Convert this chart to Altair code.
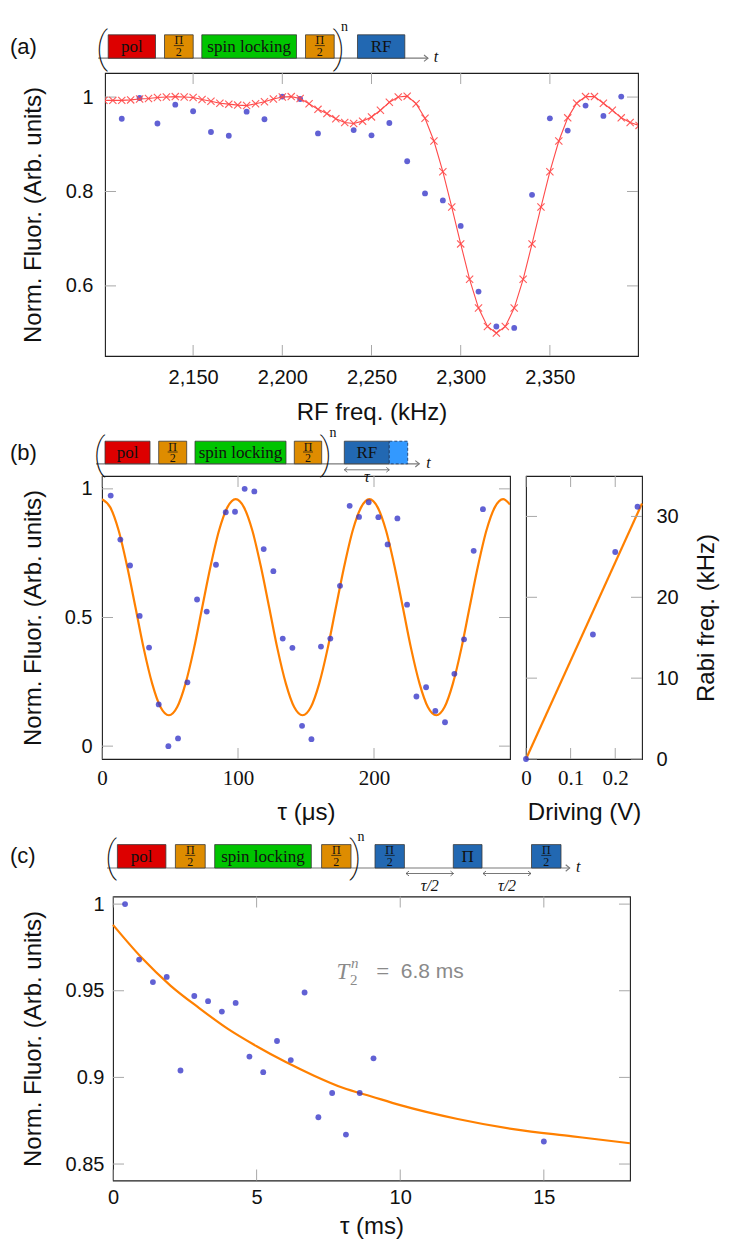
import altair as alt
import pandas as pd

# ---------------- (a) RF spectrum ----------------
a_fit_freq = [2100, 2105, 2110, 2115, 2120, 2125, 2130, 2135, 2140, 2145,
              2150, 2155, 2160, 2165, 2170, 2175, 2180, 2185, 2190, 2195,
              2200, 2205, 2210, 2215, 2220, 2225, 2230, 2235, 2240, 2245,
              2250, 2255, 2260, 2265, 2270, 2275, 2280, 2285, 2290, 2295,
              2300, 2305, 2310, 2315, 2320, 2325, 2330, 2335, 2340, 2345,
              2350, 2355, 2360, 2365, 2370, 2375, 2380, 2385, 2390, 2395, 2400]
a_fit_val = [0.993, 0.993, 0.993, 0.994, 0.996, 0.997, 0.999, 1.000, 1.001, 1.000,
             0.999, 0.995, 0.991, 0.987, 0.985, 0.983, 0.982, 0.986, 0.990, 0.996,
             1.000, 1.001, 0.997, 0.986, 0.974, 0.965, 0.954, 0.946, 0.944, 0.949,
             0.958, 0.972, 0.989, 1.000, 1.002, 0.986, 0.955, 0.907, 0.842, 0.767,
             0.689, 0.614, 0.553, 0.514, 0.500, 0.514, 0.553, 0.614, 0.689, 0.767,
             0.842, 0.907, 0.956, 0.987, 1.001, 1.001, 0.987, 0.972, 0.956, 0.946, 0.940]
a_meas_freq = [2110, 2120, 2130, 2140, 2150, 2160, 2170, 2180, 2190, 2200, 2210, 2220,
               2240, 2250, 2260, 2270, 2280, 2290, 2300, 2310, 2320, 2330, 2340, 2350,
               2360, 2370, 2380, 2390]
a_meas_val = [0.954, 0.998, 0.944, 0.984, 0.970, 0.926, 0.918, 0.969, 0.953, 1.001, 0.996, 0.923,
              0.930, 0.919, 0.945, 0.864, 0.796, 0.781, 0.727, 0.588, 0.514, 0.511, 0.793, 0.955,
              0.929, 0.982, 0.960, 1.001]
a_xticks = [2150, 2200, 2250, 2300, 2350]
a_yticks = [0.6, 0.8, 1.0]

# ---------------- (b) Rabi oscillation ----------------
b_tau = [6.4, 13.5, 20.6, 27.7, 34.6, 41.7, 48.8, 55.9, 62.8, 69.9,
         77.0, 83.8, 91.0, 97.8, 104.9, 112.0, 118.9, 126.0, 132.9, 140.0,
         147.1, 154.0, 161.0, 167.9, 175.0, 182.1, 189.0, 196.1, 203.2, 210.0,
         217.2, 224.3, 231.2, 238.3, 245.1, 252.2, 259.1, 266.2, 273.3, 280.1]
b_val = [0.974, 0.803, 0.702, 0.506, 0.383, 0.162, 0.000, 0.030, 0.248, 0.570,
         0.523, 0.705, 0.909, 0.911, 1.000, 0.990, 0.766, 0.680, 0.418, 0.382,
         0.079, 0.027, 0.387, 0.418, 0.623, 0.934, 0.891, 0.948, 0.890, 0.784,
         0.885, 0.550, 0.193, 0.229, 0.137, 0.093, 0.281, 0.415, 0.759, 0.921]
b_fit_tau = [0, 6.1, 12.3, 18.4, 24.6, 30.7, 36.9, 43.0, 49.2, 55.3, 61.4, 67.6,
             73.7, 79.9, 86.0, 92.2, 98.3, 104.4, 110.6, 116.7, 122.9, 129.0, 135.2,
             141.3, 147.5, 153.6, 159.7, 165.9, 172.0, 178.2, 184.3, 190.5, 196.6,
             202.7, 208.9, 215.0, 221.2, 227.3, 233.5, 239.6, 245.8, 251.9, 258.0,
             264.2, 270.3, 276.5, 282.6, 288.8, 294.9, 300.0]
b_fit_val = [0.960, 0.928, 0.837, 0.701, 0.540, 0.379, 0.243, 0.152, 0.120, 0.152, 0.243, 0.379,
             0.540, 0.701, 0.837, 0.928, 0.960, 0.928, 0.837, 0.701, 0.540, 0.379, 0.243,
             0.152, 0.120, 0.152, 0.243, 0.379, 0.540, 0.701, 0.837, 0.928, 0.960,
             0.928, 0.837, 0.701, 0.540, 0.379, 0.243, 0.152, 0.120, 0.152, 0.243,
             0.379, 0.540, 0.701, 0.837, 0.928, 0.960, 0.939]
b_xticks = [0, 100, 200]
b_yticks = [0, 0.5, 1.0]

b_drive = [0.0, 0.15, 0.20, 0.25]
b_rabi = [0.0, 15.4, 25.6, 31.2]
b_fit_drive = [0.0, 0.26]
b_fit_rabi = [0.0, 31.6]
b2_xticks = [0, 0.1, 0.2]
b2_yticks = [0, 10, 20, 30]

# ---------------- (c) coherence decay ----------------
c_tau = [0.42, 0.91, 1.39, 1.87, 2.35, 2.83, 3.31, 3.79, 4.27, 4.75,
         5.23, 5.71, 6.19, 6.67, 7.15, 7.63, 8.11, 8.59, 9.07, 15.0]
c_val = [1.000, 0.968, 0.955, 0.958, 0.904, 0.947, 0.944, 0.938, 0.943, 0.912,
         0.903, 0.921, 0.910, 0.949, 0.877, 0.891, 0.867, 0.891, 0.911, 0.863]
c_fit_tau = [0, 1, 2, 3, 4, 5, 6, 7, 8, 9, 10, 12, 14, 16, 18]
c_fit_val = [0.988, 0.969, 0.953, 0.940, 0.928, 0.918, 0.909, 0.901, 0.894, 0.889,
             0.884, 0.876, 0.870, 0.866, 0.862]
c_xticks = [0, 5, 10, 15]
c_yticks = [0.85, 0.9, 0.95, 1.0]

# ---------------- pulse sequence labels ----------------
seq_labels = ["pol", "Π/2", "spin locking", "Π/2"]
panel_tags = ["(a)", "(b)", "(c)"]

# ---------------- styles ----------------
SANS = "Liberation Sans"
SERIF = "Liberation Serif"
THIN = "Roboto, Lato, DejaVu Sans"
BLUE_PT = "#3535c8"
RED = "#ff4a4a"
ORANGE = "#ff8000"
TICK_GRAY = "#a8a8a8"
TICK_LEN = 11
CROSS = "M-1,-1L1,1M-1,1L1,-1"
ARROW_R = "M-1,-0.8L0,0L-1,0.8"
ARROW_L = "M1,-0.8L0,0L1,0.8"
COL = {"pol": "#dd0000", "half": "#de8c00", "spin": "#00c400",
       "rf": "#2268b2", "rf2": "#3399ff"}
TITLE_SIZE = 24
LABEL_SIZE = 20
SERIF_LABEL = 21


def frame_ticks(xt, yt, xs, ys, W, H):
    dfx = pd.DataFrame({"v": xt})
    dfy = pd.DataFrame({"v": yt})
    rx = alt.Chart(dfx).mark_rule(color=TICK_GRAY, strokeWidth=1)
    ry = alt.Chart(dfy).mark_rule(color=TICK_GRAY, strokeWidth=1)
    X = alt.X("v:Q", scale=xs)
    Y = alt.Y("v:Q", scale=ys)
    return [
        rx.encode(x=X, y=alt.value(H), y2=alt.value(H - TICK_LEN)),
        rx.encode(x=X, y=alt.value(0), y2=alt.value(TICK_LEN)),
        ry.encode(y=Y, x=alt.value(0), x2=alt.value(TICK_LEN)),
        ry.encode(y=Y, x=alt.value(W), x2=alt.value(W - TICK_LEN)),
    ]


# diagram scales: offsets (px) relative to the plot origin
DXS = alt.Scale(domain=[-300, 700], range=[-300, 700], nice=False, zero=False)
DYS = alt.Scale(domain=[-100, 50], range=[-100, 50], nice=False, zero=False)


def dx(f):
    return alt.X(f"{f}:Q", scale=DXS, axis=None)


def dy(f):
    return alt.Y(f"{f}:Q", scale=DYS, axis=None)


def text_layer(rows, **kw):
    df = pd.DataFrame(rows, columns=["x", "y", "t"])
    base = dict(baseline="middle", align="center", color="#111")
    base.update(kw)
    return alt.Chart(df).mark_text(**base).encode(x=dx("x"), y=dy("y"), text="t:N")


def pulse_diagram(blocks, top, bottom, line_x0, tip_x, t_x,
                  lparen_x, rparen_x, n_x, dashed=None, arrows=None):
    layers = []
    layers.append(alt.Chart(pd.DataFrame({"x0": [line_x0], "x1": [tip_x], "y": [bottom]}))
                  .mark_rule(color="#7a7a7a", strokeWidth=1.2)
                  .encode(x=dx("x0"), x2=alt.X2("x1:Q"), y=dy("y")))
    layers.append(alt.Chart(pd.DataFrame({"x": [tip_x], "y": [bottom]}))
                  .mark_point(shape=ARROW_R, size=64, filled=False, color="#7a7a7a",
                              strokeWidth=1.1, opacity=1)
                  .encode(x=dx("x"), y=dy("y")))
    bdf = pd.DataFrame([{"x0": b[0], "x1": b[1], "y0": top, "y1": bottom, "fill": COL[b[2]]}
                        for b in blocks])
    layers.append(alt.Chart(bdf).mark_rect(stroke="#3a3a3a", strokeWidth=0.8)
                  .encode(x=dx("x0"), x2=alt.X2("x1:Q"), y=dy("y0"), y2=alt.Y2("y1:Q"),
                          fill=alt.Fill("fill:N", scale=None)))
    if dashed:
        ddf = pd.DataFrame([{"x0": dashed[0], "x1": dashed[1], "y0": top, "y1": bottom,
                             "fill": COL["rf2"]}])
        layers.append(alt.Chart(ddf).mark_rect(stroke="#1d3f70", strokeWidth=0.9,
                                               strokeDash=[3, 2])
                      .encode(x=dx("x0"), x2=alt.X2("x1:Q"), y=dy("y0"), y2=alt.Y2("y1:Q"),
                              fill=alt.Fill("fill:N", scale=None)))
    mid = (top + bottom) / 2
    words, fr_pi, fr_two, fr_bar, big_pi = [], [], [], [], []
    for b in blocks:
        xc = (b[0] + b[1]) / 2
        lab = b[3]
        if lab == "Π/2":
            fr_pi.append((xc, top + 5.5, "Π"))
            fr_two.append((xc, top + 17, "2"))
            fr_bar.append({"x0": xc - 5, "x1": xc + 5, "y": top + 10.8})
        elif lab == "Π":
            big_pi.append((xc, mid + 0.5, "Π"))
        else:
            words.append((xc, mid + 0.5, lab))
    if words:
        layers.append(text_layer(words, font=SERIF, fontSize=17))
    if fr_pi:
        layers.append(text_layer(fr_pi, font=SERIF, fontSize=12))
        layers.append(text_layer(fr_two, font=SERIF, fontSize=12))
        layers.append(alt.Chart(pd.DataFrame(fr_bar)).mark_rule(color="#111", strokeWidth=0.7)
                      .encode(x=dx("x0"), x2=alt.X2("x1:Q"), y=dy("y")))
    if big_pi:
        layers.append(text_layer(big_pi, font=SERIF, fontSize=17))
    layers.append(text_layer([(lparen_x, mid + 2, "("), (rparen_x, mid + 2, ")")],
                             font=THIN, fontSize=42, fontWeight=100))
    layers.append(text_layer([(n_x, top - 8, "n")], font=SERIF, fontSize=14))
    layers.append(text_layer([(t_x, bottom - 1, "t")], font=SERIF, fontSize=16,
                             fontStyle="italic"))
    if arrows:
        for (x0, x1, ya, lab, yl) in arrows:
            layers.append(alt.Chart(pd.DataFrame({"x0": [x0], "x1": [x1], "y": [ya]}))
                          .mark_rule(color="#555", strokeWidth=0.8)
                          .encode(x=dx("x0"), x2=alt.X2("x1:Q"), y=dy("y")))
            layers.append(alt.Chart(pd.DataFrame({"x": [x1], "y": [ya]}))
                          .mark_point(shape=ARROW_R, size=36, filled=False, color="#555",
                                      strokeWidth=0.8, opacity=1)
                          .encode(x=dx("x"), y=dy("y")))
            layers.append(alt.Chart(pd.DataFrame({"x": [x0], "y": [ya]}))
                          .mark_point(shape=ARROW_L, size=36, filled=False, color="#555",
                                      strokeWidth=0.8, opacity=1)
                          .encode(x=dx("x"), y=dy("y")))
            layers.append(text_layer([((x0 + x1) / 2, yl, lab)], font=SERIF, fontSize=16,
                                     fontStyle="italic"))
    return alt.layer(*layers)


def panel(data_layers, diagram, W, H):
    data = alt.layer(*data_layers)
    if diagram is None:
        return data.properties(width=W, height=H)
    return (alt.layer(data, diagram)
            .resolve_scale(x="independent", y="independent")
            .properties(width=W, height=H))


def tag_column(w, tag, tag_y):
    """Left margin column of a row, carrying the panel tag."""
    return (text_layer([(1, tag_y, tag)], font=SANS, fontSize=22, align="left")
            .properties(width=w, height=1,
                        view=alt.ViewBackground(stroke="transparent")))


# ================= panel (a) =================
WA, HA = 533, 283
ax_s = alt.Scale(domain=[2100.6, 2399.4], nice=False, zero=False)
ay_s = alt.Scale(domain=[0.4515, 1.051], nice=False, zero=False)
df_a_fit = pd.DataFrame({"f": a_fit_freq, "v": a_fit_val})
df_a_pts = pd.DataFrame({"f": a_meas_freq, "v": a_meas_val})

a_pts = alt.Chart(df_a_pts).mark_circle(size=34, color=BLUE_PT, opacity=0.78).encode(
    x=alt.X("f:Q", scale=ax_s,
            axis=alt.Axis(values=a_xticks, format=",.0f", title="RF freq. (kHz)",
                          labelPadding=11, titleY=56.5, titleBaseline="middle")),
    y=alt.Y("v:Q", scale=ay_s,
            axis=alt.Axis(values=a_yticks, format="~g", title="Norm. Fluor. (Arb. units)",
                          labelPadding=12, titleX=-71.5, titleBaseline="middle")))
a_line = alt.Chart(df_a_fit).mark_line(color=RED, strokeWidth=1.1, clip=True).encode(
    x=alt.X("f:Q", scale=ax_s), y=alt.Y("v:Q", scale=ay_s))
a_cross = alt.Chart(df_a_fit).mark_point(shape=CROSS, size=52, filled=False, color=RED,
                                         strokeWidth=1.1, opacity=0.9, clip=True).encode(
    x=alt.X("f:Q", scale=ax_s), y=alt.Y("v:Q", scale=ay_s))

diag_a = pulse_diagram(
    [(3.2, 50.5, "pol", seq_labels[0]), (59.5, 88.2, "half", seq_labels[1]),
     (96.8, 191.5, "spin", seq_labels[2]), (200.5, 229.2, "half", seq_labels[3]),
     (252.5, 299.8, "rf", "RF")],
    top=-38.2, bottom=-14.8, line_x0=-6.8, tip_x=323, t_x=331,
    lparen_x=-3, rparen_x=234, n_x=239.5)

chart_a = panel([a_pts] + frame_ticks(a_xticks, a_yticks, ax_s, ay_s, WA, HA) + [a_line, a_cross],
                diag_a, WA, HA)

# ================= panel (b) left =================
WB, HB = 408, 283
bx_s = alt.Scale(domain=[0, 300], nice=False, zero=False)
by_s = alt.Scale(domain=[-0.05, 1.05], nice=False, zero=False)
df_b = pd.DataFrame({"t": b_tau, "v": b_val})
df_b_fit = pd.DataFrame({"t": b_fit_tau, "v": b_fit_val})

b_fit = alt.Chart(df_b_fit).mark_line(color=ORANGE, strokeWidth=2.2, interpolate="monotone",
                                      clip=True).encode(
    x=alt.X("t:Q", scale=bx_s,
            axis=alt.Axis(values=b_xticks, title="τ (μs)", labelFont=SERIF,
                          labelFontSize=SERIF_LABEL, labelPadding=8, titleY=53.5,
                          titleBaseline="middle")),
    y=alt.Y("v:Q", scale=by_s,
            axis=alt.Axis(values=b_yticks, format="~g", title="Norm. Fluor. (Arb. units)",
                          labelPadding=10, titleX=-69, titleBaseline="middle")))
b_pts = alt.Chart(df_b).mark_circle(size=34, color=BLUE_PT, opacity=0.78).encode(
    x=alt.X("t:Q", scale=bx_s), y=alt.Y("v:Q", scale=by_s))

diag_b = pulse_diagram(
    [(3, 48, "pol", seq_labels[0]), (56.7, 84.7, "half", seq_labels[1]),
     (93, 184, "spin", seq_labels[2]), (192.3, 219.7, "half", seq_labels[3]),
     (242.3, 287.3, "rf", "RF")],
    top=-34.8, bottom=-12.2, line_x0=-6, tip_x=317.3, t_x=326.5,
    lparen_x=-2.5, rparen_x=224, n_x=231, dashed=(287.3, 305.7),
    arrows=[(242.3, 287.3, -6.2, "τ", 1)])

chart_b1 = panel([b_fit] + frame_ticks(b_xticks, b_yticks, bx_s, by_s, WB, HB) + [b_pts],
                 diag_b, WB, HB)

# ================= panel (b) right =================
WB2 = 116
b2x_s = alt.Scale(domain=[0, 0.26], nice=False, zero=False)
b2y_s = alt.Scale(domain=[0, 35], nice=False, zero=False)
df_b2 = pd.DataFrame({"d": b_drive, "r": b_rabi})
df_b2_fit = pd.DataFrame({"d": b_fit_drive, "r": b_fit_rabi})

b2_fit = alt.Chart(df_b2_fit).mark_line(color=ORANGE, strokeWidth=2.2).encode(
    x=alt.X("d:Q", scale=b2x_s,
            axis=alt.Axis(values=b2_xticks, format="~g", title="Driving (V)", labelFont=SERIF,
                          labelFontSize=SERIF_LABEL, labelPadding=8, titleY=53.5,
                          titleBaseline="middle")),
    y=alt.Y("r:Q", scale=b2y_s,
            axis=alt.Axis(orient="right", values=b2_yticks, title="Rabi freq. (kHz)",
                          labelPadding=14, titleAngle=270, titleX=64,
                          titleBaseline="middle")))
b2_pts = alt.Chart(df_b2).mark_circle(size=34, color=BLUE_PT, opacity=0.78).encode(
    x=alt.X("d:Q", scale=b2x_s), y=alt.Y("r:Q", scale=b2y_s))

chart_b2 = panel([b2_fit] + frame_ticks(b2_xticks, b2_yticks, b2x_s, b2y_s, WB2, HB) + [b2_pts],
                 None, WB2, HB)

# ================= panel (c) =================
WC, HC = 517, 284
cx_s = alt.Scale(domain=[0, 18], nice=False, zero=False)
cy_s = alt.Scale(domain=[0.8405, 1.0044], nice=False, zero=False)
df_c = pd.DataFrame({"t": c_tau, "v": c_val})
df_c_fit = pd.DataFrame({"t": c_fit_tau, "v": c_fit_val})

c_fit = alt.Chart(df_c_fit).mark_line(color=ORANGE, strokeWidth=2.2,
                                      interpolate="monotone").encode(
    x=alt.X("t:Q", scale=cx_s,
            axis=alt.Axis(values=c_xticks, title="τ (ms)", labelPadding=7, titleY=46,
                          titleBaseline="middle")),
    y=alt.Y("v:Q", scale=cy_s,
            axis=alt.Axis(values=c_yticks, format="~g", title="Norm. Fluor. (Arb. units)",
                          labelPadding=9, titleX=-80, titleBaseline="middle")))
c_pts = alt.Chart(df_c).mark_circle(size=34, color=BLUE_PT, opacity=0.78).encode(
    x=alt.X("t:Q", scale=cx_s), y=alt.Y("v:Q", scale=cy_s))

ann = pd.DataFrame({"t": [8.0], "v": [0.961]})
GRAY = "#8a8a8a"


def ann_text(txt, **kw):
    base = dict(baseline="middle", align="center", color=GRAY)
    base.update(kw)
    return alt.Chart(ann).mark_text(text=txt, **base).encode(
        x=alt.X("t:Q", scale=cx_s), y=alt.Y("v:Q", scale=cy_s))


c_ann = [
    ann_text("T", font=SERIF, fontSize=23, fontStyle="italic"),
    ann_text("n", font=SERIF, fontSize=15, fontStyle="italic", dx=12, dy=-9),
    ann_text("2", font=SERIF, fontSize=15, dx=11, dy=8),
    ann_text("=", font=SERIF, fontSize=23, dx=40),
    ann_text("6.8 ms", font=SANS, fontSize=21, align="left", dx=58),
]

diag_c = pulse_diagram(
    [(4.4, 52.9, "pol", seq_labels[0]), (62.4, 92.2, "half", seq_labels[1]),
     (101.7, 198.3, "spin", seq_labels[2]), (208.6, 238, "half", seq_labels[3]),
     (262, 291.4, "rf", "Π/2"), (340.3, 369, "rf", "Π"), (418.5, 448, "rf", "Π/2")],
    top=-51.9, bottom=-28.5, line_x0=-6, tip_x=456.7, t_x=465.3,
    lparen_x=-2, rparen_x=242.5, n_x=248,
    arrows=[(293, 340.5, -23, "τ/2", -11), (370, 418, -23, "τ/2", -11)])

chart_c = panel([c_fit] + frame_ticks(c_xticks, c_yticks, cx_s, cy_s, WC, HC) + [c_pts] + c_ann,
                diag_c, WC, HC)

row_a = alt.hconcat(tag_column(95.5, panel_tags[0], -26.5), chart_a, spacing=0,
                    bounds="flush")
row_b = alt.hconcat(tag_column(77, panel_tags[1], -23.5), chart_b1, chart_b2, spacing=16,
                    bounds="flush")
row_c = alt.hconcat(tag_column(104, panel_tags[2], -40.2), chart_c, spacing=0,
                    bounds="flush")
top_part = alt.concat(row_a, row_b, columns=1, align="none", spacing=-1)
chart = alt.concat(top_part, row_c, columns=1, align="none", spacing=2.5).properties(
    padding={"left": 0, "top": 11, "right": 8, "bottom": 6})

chart = (chart
         .configure_view(stroke="#1e1e1e", strokeWidth=1.1)
         .configure_axis(grid=False, ticks=False, domain=False, labelFlush=False,
                         labelFont=SANS, titleFont=SANS, labelFontSize=LABEL_SIZE,
                         titleFontSize=TITLE_SIZE, titleFontWeight="normal",
                         labelColor="#111", titleColor="#111"))

chart.save("out.html", embed_options={"renderer": "svg", "actions": False})
